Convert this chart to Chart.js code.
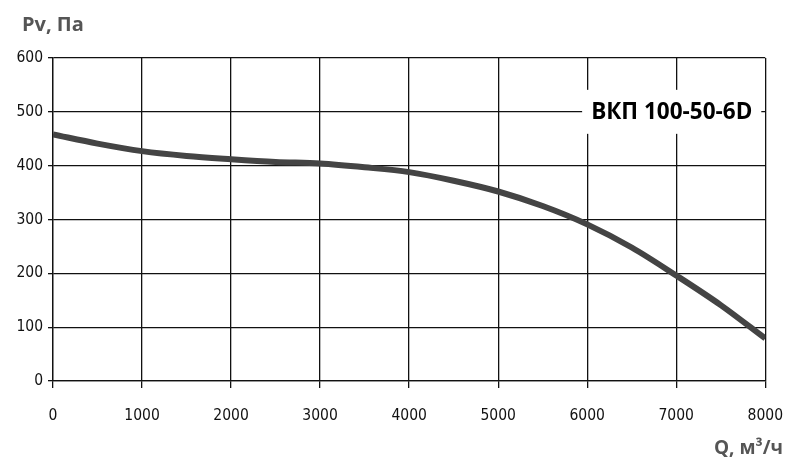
<!DOCTYPE html>
<html>
<head>
<meta charset="utf-8">
<script src="https://cdn.jsdelivr.net/npm/chart.js@4/dist/chart.umd.min.js"></script>
<style>
  html, body { margin: 0; padding: 0; background: #fff; }
  #wrap { width: 802px; height: 464px; position: relative; }
</style>
</head>
<body>
<div id="wrap"><canvas id="pvChart"></canvas></div>
<script>
// airflow, m3/h
var flow = [0, 500, 1000, 1500, 2000, 2500, 3000, 3500, 4000, 4500, 5000, 5500, 6000, 6500, 7000, 7500, 8000];
// static pressure, Pa
var pressure = [458, 441, 427, 418, 412, 407, 404, 397, 388, 372, 352, 325, 291, 248, 196, 141, 79];

var modelName = 'ВКП 100-50-6D';
var yTitle = 'Pv, Па';
var xTitle = 'Q, м³/ч';

var tickFont = { family: "'Liberation Sans Narrow', 'DejaVu Sans Condensed', Roboto, sans-serif", size: 15.5 };

// texts that are not part of the axes
var textPlugin = {
  id: 'texts',
  afterDraw: function(chart) {
    var ctx = chart.ctx;
    var x = chart.scales.x, y = chart.scales.y;
    ctx.save();
    ctx.textBaseline = 'alphabetic';

    ctx.fillStyle = '#555';
    ctx.font = "bold 20px 'Open Sans', sans-serif";
    ctx.textAlign = 'left';
    ctx.fillText(yTitle, 22, 31);

    ctx.font = "bold 19px 'Open Sans', sans-serif";
    ctx.textAlign = 'right';
    ctx.fillText(xTitle, 783, 454);

    // model label on the 500 line
    var cx = (x.getPixelForValue(6000) + x.getPixelForValue(7000)) / 2 + 40;
    var cy = y.getPixelForValue(500);
    ctx.font = "bold 22.5px 'Open Sans', sans-serif";
    var w = ctx.measureText(modelName).width;
    ctx.fillStyle = '#fff';
    ctx.fillRect(cx - w / 2 - 9, cy - 22, w + 18, 44);
    ctx.fillStyle = '#000';
    ctx.textAlign = 'center';
    ctx.textBaseline = 'middle';
    ctx.fillText(modelName, cx, cy + 1);
    ctx.restore();
  }
};

var ctx = document.getElementById('pvChart').getContext('2d');
var pvChart = new Chart(ctx, {
  type: 'line',
  data: {
    datasets: [{
      label: modelName,
      data: flow.map(function(q, i) { return { x: q, y: pressure[i] }; }),
      borderColor: '#444',
      borderWidth: 6,
      pointRadius: 0,
      cubicInterpolationMode: 'monotone',
      fill: false
    }]
  },
  options: {
    responsive: true,
    maintainAspectRatio: false,
    animation: false,
    layout: { padding: { top: 58, right: 33, bottom: 0, left: 0 } },
    plugins: {
      legend: { display: false },
      tooltip: { enabled: false }
    },
    scales: {
      x: {
        type: 'linear',
        min: 0,
        max: 8000,
        ticks: {
          stepSize: 1000, color: '#111', font: tickFont, padding: 19, maxRotation: 0,
          callback: function(val) { return String(val); }
        },
        grid: { color: '#111', lineWidth: 1.3, tickLength: 7 },
        border: { color: '#111', width: 1.3 },
        afterFit: function(scale) { scale.height = 83; }
      },
      y: {
        min: 0,
        max: 600,
        ticks: {
          stepSize: 100, color: '#111', font: tickFont, padding: 5,
          callback: function(val) { return String(val); }
        },
        grid: { color: '#111', lineWidth: 1.3, tickLength: 5 },
        border: { color: '#111', width: 1.3 },
        afterFit: function(scale) { scale.width = 53; }
      }
    }
  },
  plugins: [textPlugin]
});
</script>
</body>
</html>
